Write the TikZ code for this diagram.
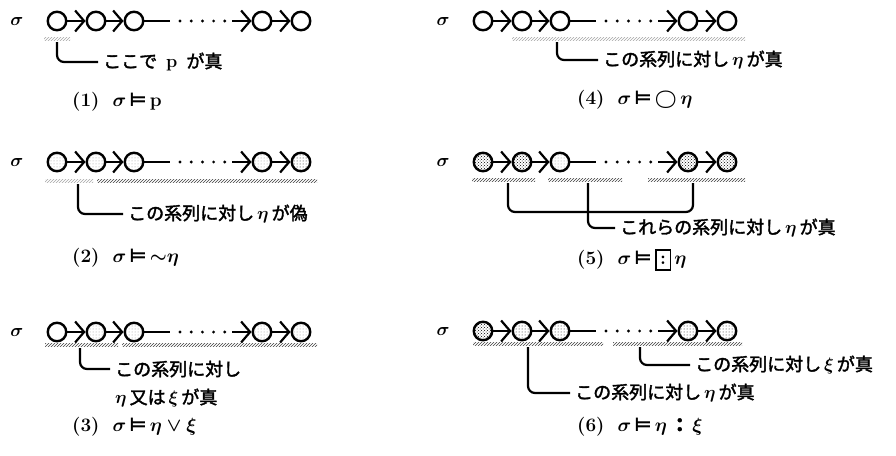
\RequirePackage{fix-cm}
\documentclass[tikz,border=0pt]{standalone}
\usepackage{fontspec}
\newfontfamily\cjk[FakeBold=2]{Noto Sans CJK JP}
\newfontfamily\symf{DejaVu Sans}
\usetikzlibrary{arrows.meta,patterns}
\newcommand\boxcolon{{\setlength\fboxsep{1.5pt}\setlength\fboxrule{1.6pt}\fbox{\makebox[10pt]{\raisebox{0pt}[12pt][3pt]{\bfseries :}}}}}
\newcommand\mdl{{\symf\bfseries ⊨}}
\newcommand\seqrow[8]{%
  \node[sig] (#1s) at (#2-40,#3) {$\sigma$};
  \node[st,#4] (#1c1) at (#2,#3) {};
  \node[st,#5] (#1c2) at (#2+39,#3) {};
  \node[st,#6] (#1c3) at (#2+77,#3) {};
  \node[st,#7] (#1c4) at (#2+205,#3) {};
  \node[st,#8] (#1c5) at (#2+244,#3) {};
  \coordinate (#1a) at (#2+113,#3);
  \coordinate (#1b) at (#2+175,#3);
  \draw[conn] (#1c1) -- (#1c2);
  \draw[conn] (#1c2) -- (#1c3);
  \draw[seg] (#1c3) -- (#1a);
  \foreach \k in {0,...,4} \fill (#2+123+\k*11.2,#3) circle (1.6pt);
  \draw[conn] (#1b) -- (#1c4);
  \draw[conn] (#1c4) -- (#1c5);
}
\newcommand\bandseg[4]{\path[band,#4] (#1,#3-1.8) rectangle (#2,#3+1.8);}
\tikzset{
  st/.style={circle,draw,line width=2.4pt,minimum size=18.5pt,inner sep=0pt},
  f0/.style={},
  fl/.style={pattern=dots,pattern color=black!40},
  fm/.style={pattern=dots,pattern color=black!90},
  fh/.style={pattern=crosshatch dots,pattern color=black},
  conn/.style={line width=2pt,-{Straight Barb[length=9pt,width=21pt,line width=2.2pt]}},
  seg/.style={line width=2pt},
  band/.style={pattern=north east lines,pattern color=black!75},
  faint/.style={pattern color=black!35},
  brk/.style={line width=2.2pt,rounded corners=7pt,shorten >=5pt},
  txt/.style={font=\cjk\fontsize{18}{22}\selectfont\boldmath,inner sep=0pt,anchor=west},
  lab/.style={font=\bfseries\fontsize{19}{22}\selectfont\boldmath,inner sep=0pt,anchor=west},
  sig/.style={font=\fontsize{18}{22}\selectfont\boldmath,inner sep=0pt},
}
\begin{document}
\begin{tikzpicture}[x=1pt,y=-1pt]
\useasboundingbox[fill=white] (0,0) rectangle (896,455);
% ---------- panel 1
\seqrow{p}{57}{21}{f0}{f0}{f0}{f0}{f0}
\bandseg{44}{70}{39}{faint}
\coordinate (p1b) at (57,42);
\node[txt] (p1t) at (103,62) {ここで\enspace{\rmfamily\bfseries p}\enspace が真};
\draw[brk] (p1b) |- (p1t.west);
\node[lab] (p1l) at (72,102) {(1)\hspace{13pt}$\sigma$\,\mdl\,p};
% ---------- panel 2
\seqrow{q}{57}{162}{fl}{fl}{fl}{fl}{fm}
\bandseg{45}{93}{181}{faint}
\bandseg{97}{317}{181}{}
\coordinate (p2b) at (78,184);
\node[txt] (p2t) at (128,214) {この系列に対し\,$\eta$\,が偽};
\draw[brk] (p2b) |- (p2t.west);
\node[lab] (p2l) at (72,258) {(2)\hspace{13pt}$\sigma$\,\mdl\,${\sim}\eta$};
% ---------- panel 3
\seqrow{r}{57}{332}{f0}{fl}{fl}{fl}{fl}
\bandseg{45}{118}{345}{}
\bandseg{122}{317}{345}{}
\coordinate (p3b) at (80,348);
\node[txt] (p3t) at (115,369) {この系列に対し};
\node[txt] (p3u) at (115,398) {$\eta$\,又は\,$\xi$\,が真};
\draw[brk] (p3b) |- (p3t.west);
\node[lab] (p3l) at (72,427) {(3)\hspace{13pt}$\sigma$\,\mdl\,$\eta\vee\xi$};
% ---------- panel 4
\seqrow{s}{483}{21}{f0}{f0}{f0}{f0}{f0}
\bandseg{512}{745}{39}{faint}
\coordinate (p4b) at (557,42);
\node[txt] (p4t) at (603,60) {この系列に対し\,$\eta$\,が真};
\draw[brk] (p4b) |- (p4t.west);
\node[lab] (p4l) at (577,100) {(4)\hspace{13pt}$\sigma$\,\mdl\,${\bigcirc}\,\eta$};
% ---------- panel 5
\seqrow{t}{483}{162}{fh}{fh}{fl}{fh}{fh}
\bandseg{472}{535}{180}{}
\bandseg{548}{622}{180}{}
\bandseg{648}{745}{180}{}
\coordinate (p5l) at (508,183);
\coordinate (p5m) at (588,183);
\coordinate (p5r) at (693,183);
\coordinate (p5j) at (588,212);
\node[txt] (p5t) at (620,228) {これらの系列に対し\,$\eta$\,が真};
\draw[line width=2.2pt,rounded corners=7pt] (p5l) |- (p5j);
\draw[line width=2.2pt,rounded corners=7pt] (p5r) |- (p5j);
\draw[brk] (p5m) |- (p5t.west);
\node[lab] (p5lab) at (577,260) {(5)\hspace{13pt}$\sigma$\,\mdl\,\boxcolon\,$\eta$};
% ---------- panel 6
\seqrow{u}{483}{331}{fh}{fm}{fm}{fm}{fm}
\bandseg{473}{603}{344}{}
\bandseg{613}{742}{344}{}
\coordinate (p6a) at (640,347);
\coordinate (p6b) at (528,347);
\node[txt] (p6t) at (695,365) {この系列に対し\,$\xi$\,が真};
\node[txt] (p6u) at (575,393) {この系列に対し\,$\eta$\,が真};
\draw[brk] (p6a) |- (p6t.west);
\draw[brk] (p6b) |- (p6u.west);
\node[lab] (p6l) at (577,427) {(6)\hspace{13pt}$\sigma$\,\mdl\,$\eta$\,{\cjk ：}\,$\xi$};
\end{tikzpicture}
\end{document}
